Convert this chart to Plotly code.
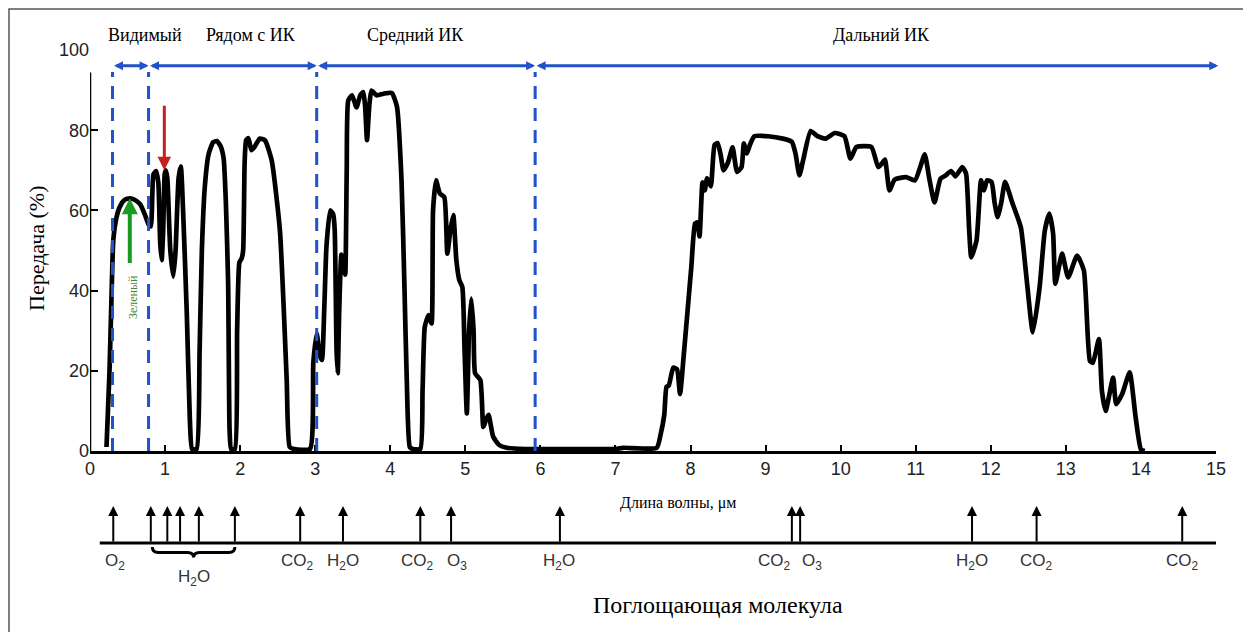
import plotly.graph_objects as go

# ---------------- data ----------------
wavelength = [0.22, 0.26, 0.29, 0.31, 0.35, 0.40, 0.46, 0.53, 0.60, 0.67, 0.73, 0.78, 0.81, 0.83, 0.845,
              0.88, 0.91, 0.935, 0.955, 0.975, 0.995, 1.01, 1.03, 1.07, 1.11, 1.14, 1.18, 1.21, 1.24, 1.29,
              1.33, 1.36, 1.42, 1.46, 1.49, 1.53, 1.58, 1.64, 1.69, 1.74, 1.78, 1.81, 1.84, 1.86, 1.88,
              1.93, 1.96, 1.99, 2.02, 2.04, 2.06, 2.08, 2.11, 2.15, 2.19, 2.26, 2.33, 2.42, 2.53, 2.62,
              2.66, 2.72, 2.93, 2.975, 3.02, 3.06, 3.09, 3.12, 3.15, 3.20, 3.24, 3.26, 3.285, 3.30, 3.32,
              3.35, 3.38, 3.40, 3.42, 3.44, 3.49, 3.55, 3.60, 3.64, 3.665, 3.69, 3.72, 3.75, 3.82, 3.91,
              4.02, 4.09, 4.15, 4.19, 4.22, 4.26, 4.30, 4.40, 4.43, 4.46, 4.51, 4.55, 4.57, 4.61, 4.66,
              4.72, 4.76, 4.80, 4.84, 4.88, 4.92, 4.96, 4.99, 5.02, 5.05, 5.08, 5.11, 5.13, 5.20, 5.24,
              5.28, 5.31, 5.37, 5.45, 5.55, 5.80, 6.00, 7.00, 7.10, 7.55, 7.60, 7.65, 7.68, 7.71, 7.77,
              7.82, 7.86, 7.91, 8.01, 8.06, 8.09, 8.12, 8.16, 8.19, 8.22, 8.27, 8.32, 8.36, 8.40, 8.44,
              8.50, 8.56, 8.62, 8.68, 8.71, 8.75, 8.79, 8.85, 9.03, 9.23, 9.35, 9.40, 9.45, 9.50, 9.60,
              9.69, 9.80, 9.92, 10.05, 10.13, 10.21, 10.41, 10.50, 10.55, 10.59, 10.65, 10.72, 10.87, 10.99,
              11.06, 11.12, 11.18, 11.25, 11.33, 11.40, 11.47, 11.53, 11.62, 11.67, 11.71, 11.74, 11.81,
              11.87, 11.91, 11.95, 12.01, 12.05, 12.09, 12.14, 12.19, 12.29, 12.40, 12.47, 12.56, 12.65,
              12.72, 12.78, 12.83, 12.86, 12.95, 13.03, 13.15, 13.24, 13.32, 13.36, 13.44, 13.48, 13.53,
              13.63, 13.67, 13.75, 13.85, 13.93, 14.00, 14.05]
transmission = [1, 20, 41, 52.5, 58, 61, 62.6, 63, 62.6, 61.5, 59, 56.5, 56, 64, 69,
                69.8, 67, 52, 47.6, 55, 69, 70, 68, 50, 43.5, 50, 68, 71, 60, 34,
                8, 0.5, 0.5, 25, 50, 66, 74, 77, 77.3, 76, 73, 62, 42, 5, 0.5,
                0.5, 30, 47, 48, 50, 72, 77.5, 78, 75, 75.8, 77.9, 77.5, 72.5, 55, 18,
                1, 0.5, 0.5, 22, 29.3, 24, 22.7, 35, 51, 60, 59, 55, 25, 19.4, 35,
                49, 47, 44, 70, 87.4, 88.7, 85.7, 88.7, 89.5, 86, 77.5, 86, 89.9, 88.7, 89.1,
                89.3, 85.8, 67.5, 40, 17.7, 1, 0.5, 0.5, 15, 31, 33.9, 31.8, 60, 67.5, 64.2,
                63.3, 49.2, 55, 58.8, 47.6, 42.6, 40.9, 25, 9.4, 30, 38, 30, 19.4, 17.7, 6,
                8, 9, 3.6, 1.5, 0.8, 0.5, 0.5, 0.5, 0.8, 0.8, 4, 9, 16, 16.3, 20.8,
                20.4, 14.2, 24, 45.8, 56.7, 57, 53.5, 67, 65, 68, 66, 76.3, 76.8, 74, 70,
                72, 75.7, 69.6, 70.8, 76.7, 74.2, 76.3, 78.5, 78.5, 77.9, 77.1, 74, 68.75, 72.5, 79.8,
                78.5, 77.9, 79.3, 78.5, 72.9, 75.8, 75.8, 70.8, 71.7, 72.7, 65, 67.7, 68.3, 67.5,
                70.8, 74, 68, 62, 67.9, 68.75, 69.8, 68.5, 70.8, 69.2, 55.8, 48.3, 52.5,
                67.5, 65, 67.5, 67.1, 62, 58.3, 62, 67.1, 61.7, 55.8, 44.2, 29.6, 40.8,
                55, 59.2, 54.2, 41.7, 49.2, 43.3, 48.75, 45, 22.5, 22, 27.9, 15, 10,
                18.3, 11.7, 14.2, 19.6, 8.3, 0.4, 0]

region_names = ["Видимый", "Рядом с ИК", "Средний ИК", "Дальний ИК"]
region_label_x = [0.73, 2.14, 4.33, 10.55]
region_bounds = [0.30, 0.78, 3.02, 5.93, 15.03]

absorb_arrows = [0.31, 0.81, 1.03, 1.20, 1.45, 1.93, 2.80, 3.37, 4.40, 4.81, 6.26,
                 9.35, 9.46, 11.75, 12.61, 14.55]
molecules = ["O<sub>2</sub>", "CO<sub>2</sub>", "H<sub>2</sub>O", "CO<sub>2</sub>", "O<sub>3</sub>",
             "H<sub>2</sub>O", "CO<sub>2</sub>", "O<sub>3</sub>", "H<sub>2</sub>O", "CO<sub>2</sub>",
             "CO<sub>2</sub>"]
molecule_x = [0.33, 2.77, 3.37, 4.36, 4.89, 6.25, 9.12, 9.62, 11.75, 12.61, 14.56]
h2o_band = [0.83, 1.93]

x_ticks = list(range(0, 16))
y_ticks = [0, 20, 40, 60, 80, 100]

# ---------------- figure ----------------
# the page body has an 8px default margin: the figure is drawn 8px in from the window corner
OFF = 8
W, H = 1251 - OFF, 632 - OFF


def px(xp):
    return (xp - OFF) / W


def py(yp):
    return 1 - (yp - OFF) / H


BLUE = "#2152c9"
SERIF = "Liberation Serif, Times New Roman, serif"
SANS = "Liberation Sans, Arial, sans-serif"
NARROW = "Liberation Sans Narrow, Liberation Sans, Arial, sans-serif"

fig = go.Figure()
fig.add_trace(go.Scatter(x=wavelength, y=transmission, mode="lines",
                         line=dict(color="black", width=4.7, shape="spline", smoothing=0.5),
                         hoverinfo="skip", showlegend=False))
# invisible trace for the lower molecule panel
fig.add_trace(go.Scatter(x=[0, 15], y=[0, 0], xaxis="x2", yaxis="y2", mode="markers",
                         marker=dict(opacity=0), hoverinfo="skip", showlegend=False))

x_dom = [px(90), px(1216)]
fig.update_layout(
    width=W, height=H, margin=dict(l=0, r=0, t=0, b=0, autoexpand=False),
    paper_bgcolor="white", plot_bgcolor="white", showlegend=False,
    xaxis=dict(domain=x_dom, range=[0, 15], tickvals=x_ticks, ticks="inside", ticklen=6,
               tickwidth=2, tickcolor="black", showline=True, linewidth=2.5, linecolor="black",
               showgrid=False, zeroline=False, tickfont=dict(family=SANS, size=18, color="#222"),
               anchor="y", automargin=False),
    yaxis=dict(domain=[py(451), py(50)], range=[0, 100], tickvals=y_ticks,
               ticks="inside", ticklen=8, tickwidth=2, tickcolor="black", showline=False,
               showgrid=False, zeroline=False, tickfont=dict(family=SANS, size=18, color="#222"),
               anchor="x", automargin=False),
    xaxis2=dict(domain=x_dom, range=[0, 15], visible=False, anchor="y2", automargin=False),
    yaxis2=dict(domain=[py(600), py(500)], range=[0, 100], visible=False, anchor="x2",
                automargin=False),
)

shapes = []
# outer frame (bottom edge lies below the window)
shapes.append(dict(type="rect", xref="paper", yref="paper", x0=px(9), x1=px(1246), y0=-0.03,
                   y1=py(9), line=dict(color="#555", width=1.5), fillcolor="rgba(0,0,0,0)"))
# y axis line
shapes.append(dict(type="line", xref="x", yref="y", x0=0, x1=0, y0=0, y1=94.4,
                   line=dict(color="black", width=2.5)))
# dashed region boundaries
for xb in region_bounds[:-1]:
    shapes.append(dict(type="line", xref="x", yref="y", x0=xb, x1=xb, y0=0, y1=94.5,
                       line=dict(color=BLUE, width=3, dash="13px,9px")))
# molecule baseline
shapes.append(dict(type="line", xref="x2", yref="y2", x0=0.13, x1=15.03, y0=57, y1=57,
                   line=dict(color="black", width=3)))
# brace under H2O group
a, b = h2o_band
c = (a + b) / 2
d = 0.08
top, mid, bot = 53, 47.5, 42.5
path = (f"M {a},{top} Q {a},{mid} {a + d},{mid} L {c - d},{mid} Q {c},{mid} {c},{bot} "
        f"Q {c},{mid} {c + d},{mid} L {b - d},{mid} Q {b},{mid} {b},{top}")
shapes.append(dict(type="path", xref="x2", yref="y2", path=path,
                   line=dict(color="black", width=3)))
fig.update_layout(shapes=shapes)

CEN = dict(xanchor="center", yanchor="middle", showarrow=False)
ann = []
# region labels
for name, xl in zip(region_names, region_label_x):
    ann.append(dict(x=xl, y=py(35), xref="x", yref="paper", text=name,
                    font=dict(family=SERIF, size=18, color="black"), **CEN))
# blue region arrows
for x0, x1 in zip(region_bounds[:-1], region_bounds[1:]):
    ann.append(dict(x=x1, y=96.1, ax=x0, ay=96.1, xref="x", yref="y", axref="x", ayref="y",
                    text="", showarrow=True, arrowhead=2, arrowside="end+start", arrowsize=0.6,
                    arrowwidth=3, arrowcolor=BLUE, standoff=0, startstandoff=0))
# red arrow
ann.append(dict(x=0.99, y=70, ax=0.99, ay=86.5, xref="x", yref="y", axref="x", ayref="y",
                text="", showarrow=True, arrowhead=2, arrowsize=0.9, arrowwidth=3,
                arrowcolor="#c4201f"))
# green arrow
ann.append(dict(x=0.53, y=63, ax=0.53, ay=46.5, xref="x", yref="y", axref="x", ayref="y",
                text="", showarrow=True, arrowhead=2, arrowsize=0.8, arrowwidth=4,
                arrowcolor="#199a22"))
ann.append(dict(x=0.573, y=38.4, xref="x", yref="y", text="Зеленый", textangle=-90,
                font=dict(family=SERIF, size=12, color="#3d8b3d"), **CEN))
# axis titles
ann.append(dict(x=px(37), y=py(248), xref="paper", yref="paper", text="Передача (%)",
                textangle=-90, font=dict(family=SERIF, size=22, color="black"), **CEN))
ann.append(dict(x=7.83, y=py(503), xref="x", yref="paper", text="Длина волны, μм",
                font=dict(family=SERIF, size=16, color="black"), **CEN))
ann.append(dict(x=8.37, y=py(605), xref="x", yref="paper", text="Поглощающая молекула",
                font=dict(family=SERIF, size=24, color="black"), **CEN))
# absorption arrows
for xa in absorb_arrows:
    ann.append(dict(x=xa, y=94, ax=xa, ay=57, xref="x2", yref="y2", axref="x2", ayref="y2",
                    text="", showarrow=True, arrowhead=2, arrowsize=1, arrowwidth=2,
                    arrowcolor="black", standoff=0))
# molecule labels
for txt, xm in zip(molecules, molecule_x):
    ann.append(dict(x=xm, y=38, xref="x2", yref="y2", text=txt,
                    font=dict(family=NARROW, size=17, color="#333"), **CEN))
ann.append(dict(x=c, y=22, xref="x2", yref="y2", text="H<sub>2</sub>O",
                font=dict(family=NARROW, size=17, color="#333"), **CEN))
fig.update_layout(annotations=ann)

fig.write_html("out.html")
